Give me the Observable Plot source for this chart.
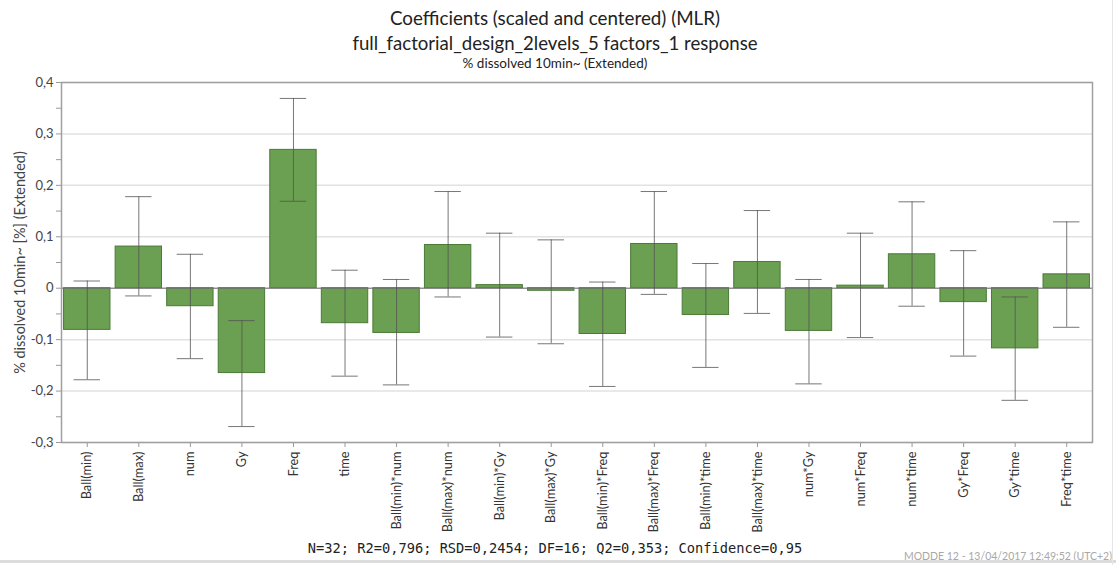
<!DOCTYPE html>
<html>
<head>
<meta charset="utf-8">
<script src="https://cdn.jsdelivr.net/npm/d3@7"></script>
<script src="https://cdn.jsdelivr.net/npm/@observablehq/plot@0.6"></script>
<style>
  html, body { margin: 0; padding: 0; background: #fff; }
  #wrap { position: relative; width: 1116px; height: 565px; overflow: hidden; font-family: Lato, "Noto Sans", sans-serif; }
  .t { position: absolute; left: 255px; width: 600px; text-align: center; color: #222; white-space: nowrap; line-height: 1; }
  #chart { position: absolute; left: 0; top: 72px; }
  #foot { position: absolute; left: 255px; width: 600px; top: 540px; text-align: center; font-family: "DejaVu Sans Mono", monospace; font-size: 13.7px; color: #222; white-space: nowrap; }
  #stamp { position: absolute; right: 4px; top: 550px; font-size: 10.5px; color: #a8a8a8; white-space: nowrap; }
  #bline { position: absolute; left: 0; top: 560px; width: 1116px; height: 3px; background: #dcdcdc; }
  #rline { position: absolute; left: 1112px; top: 0; width: 1px; height: 565px; background: #e6e6e6; }
</style>
</head>
<body>
<div id="wrap">
  <div class="t" style="top:9px;font-size:18.8px;">Coefficients (scaled and centered) (MLR)</div>
  <div class="t" style="top:34px;font-size:18.6px;">full_factorial_design_2levels_5 factors_1 response</div>
  <div class="t" style="top:57px;font-size:13.5px;">% dissolved 10min~ (Extended)</div>
  <div id="chart"></div>
  <div id="foot">N=32; R2=0,796; RSD=0,2454; DF=16; Q2=0,353; Confidence=0,95</div>
  <div id="stamp">MODDE 12 - 13/04/2017 12:49:52 (UTC+2)</div>
  <div id="bline"></div>
  <div id="rline"></div>
</div>
<script>
const terms = ["Ball(min)", "Ball(max)", "num", "Gy", "Freq", "time",
  "Ball(min)*num", "Ball(max)*num", "Ball(min)*Gy", "Ball(max)*Gy",
  "Ball(min)*Freq", "Ball(max)*Freq", "Ball(min)*time", "Ball(max)*time",
  "num*Gy", "num*Freq", "num*time", "Gy*Freq", "Gy*time", "Freq*time"];
const coef = [-0.081, 0.081, -0.035, -0.165, 0.269, -0.068, -0.087, 0.084, 0.006, -0.005,
  -0.089, 0.086, -0.052, 0.051, -0.083, 0.005, 0.066, -0.027, -0.117, 0.027];
const ciLow = [-0.178, -0.015, -0.137, -0.269, 0.169, -0.171, -0.188, -0.017, -0.095, -0.108,
  -0.191, -0.012, -0.154, -0.049, -0.186, -0.096, -0.035, -0.132, -0.218, -0.076];
const ciHigh = [0.014, 0.178, 0.066, -0.063, 0.369, 0.035, 0.017, 0.188, 0.107, 0.094,
  0.012, 0.188, 0.048, 0.151, 0.017, 0.107, 0.168, 0.073, -0.017, 0.129];
const yTicks = [-0.3, -0.2, -0.1, 0, 0.1, 0.2, 0.3, 0.4];
const yMinorTicks = [-0.25, -0.15, -0.05, 0.05, 0.15, 0.25, 0.35];
const yLabel = "% dissolved 10min~ [%] (Extended)";

const data = terms.map((t, i) => ({term: t, coef: coef[i], lo: ciLow[i], hi: ciHigh[i]}));
const fmt = d => d === 0 ? "0" : d.toFixed(1).replace(".", ",");

const chart = Plot.plot({
  width: 1116,
  height: 460,
  marginLeft: 61,
  marginRight: 24,
  marginTop: 10,
  marginBottom: 90,
  style: {fontFamily: "Lato, 'Noto Sans', sans-serif", fontSize: "12.8px", background: "transparent"},
  x: {domain: terms, paddingInner: 0.1, paddingOuter: 0.05, round: false, label: null},
  y: {domain: [-0.3, 0.4], label: null},
  marks: [
    Plot.gridY(yTicks, {stroke: "#e2e2e2", strokeOpacity: 1, strokeWidth: 1.5}),
    Plot.barY(data, {x: "term", y: "coef", fill: "#6b9f51", stroke: "#4b7a37", strokeWidth: 1}),
    Plot.ruleY([0], {stroke: "#707070", strokeWidth: 1}),
    Plot.ruleX(data, {x: "term", y1: "lo", y2: "hi", stroke: "#555", strokeOpacity: 0.8, strokeWidth: 1}),
    Plot.tickY(data, {x: "term", y: "lo", stroke: "#555", strokeOpacity: 0.8, strokeWidth: 1, insetLeft: 10, insetRight: 10}),
    Plot.tickY(data, {x: "term", y: "hi", stroke: "#555", strokeOpacity: 0.8, strokeWidth: 1, insetLeft: 10, insetRight: 10}),
    Plot.axisY(yMinorTicks, {tickSize: 5, tickFormat: () => "", stroke: "#999", label: null}),
    Plot.axisY(yTicks, {tickSize: 5, tickPadding: 3, tickFormat: fmt, stroke: "#999", fill: "#444", fontSize: 13, label: null}),
    Plot.axisX({tickSize: 5, tickPadding: 4, tickRotate: -90, stroke: "#999", fill: "#333", label: null}),
    Plot.frame({stroke: "#a0a0a0", strokeWidth: 1.5}),
    Plot.text([yLabel], {text: d => d, frameAnchor: "left", textAnchor: "middle", dx: -41, rotate: -90, fill: "#444", fontSize: 14.5})
  ]
});
document.getElementById("chart").appendChild(chart);
</script>
</body>
</html>
